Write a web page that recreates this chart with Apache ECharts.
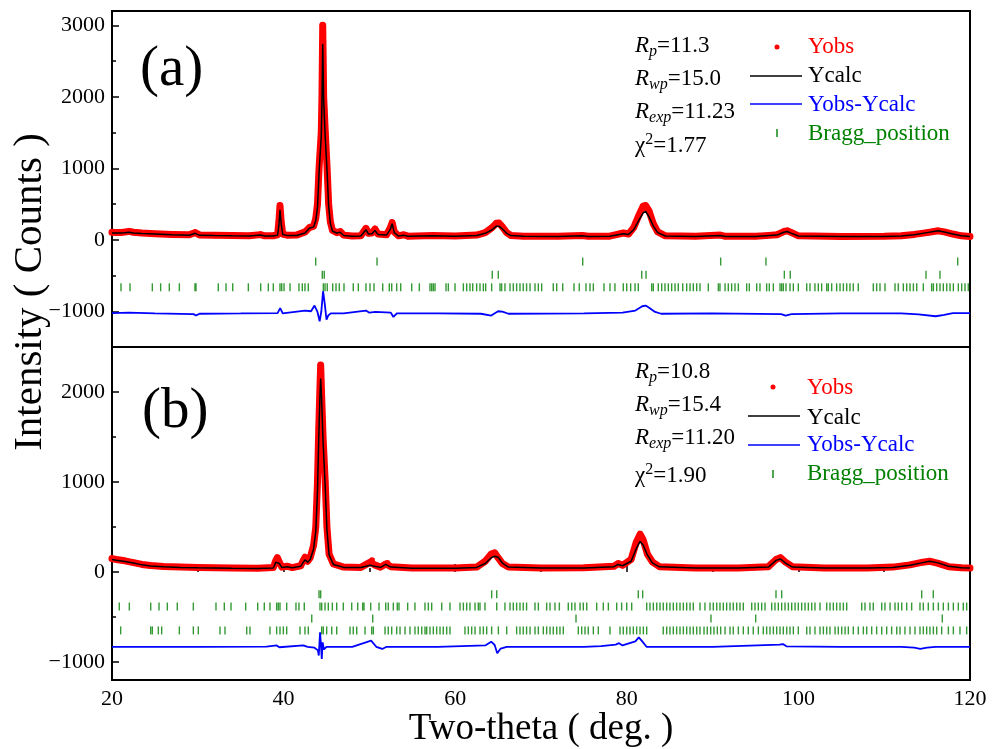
<!DOCTYPE html>
<html>
<head>
<meta charset="utf-8">
<script src="https://cdn.jsdelivr.net/npm/echarts@6/dist/echarts.min.js"></script>
<style>
  html, body { margin: 0; padding: 0; background: #fff; }
  #chart { width: 999px; height: 749px; }
</style>
</head>
<body>
<div id="chart"></div>
<script>
// ---------- panel (a) ----------
var topTheta = [
  20.0, 20.5, 21.0, 21.5, 22.0, 22.5, 23.5, 25.0, 27.0, 29.0,
  29.7, 30.2, 32.0, 34.0, 36.0, 37.3, 37.8, 38.8, 39.3, 39.45,
  39.58, 39.72, 39.9, 40.5, 41.5, 42.5, 43.0, 43.5, 43.75, 43.95,
  44.13, 44.39, 44.47, 44.56, 44.67, 44.86, 45.07, 45.25, 45.45, 45.7,
  46.2, 46.6, 47.0, 48.0, 49.0, 49.6, 49.9, 50.3, 50.65, 51.0,
  52.0, 52.45, 52.65, 52.9, 53.4, 54.0, 54.5, 57.4, 60.0, 62.5,
  63.5, 64.3, 64.8, 65.1, 65.5, 66.0, 66.5, 68.0, 72.0, 74.8,
  75.5, 78.0, 79.6, 80.2, 80.8, 81.4, 81.9, 82.2, 82.6, 83.1,
  83.6, 84.5, 88.0, 90.9, 91.5, 95.0, 96.2, 97.5, 98.3, 98.7,
  99.2, 100.0, 105.0, 110.0, 112.0, 113.5, 115.0, 116.3, 117.0, 118.0,
  119.0, 120.0
];
var topObs = [
  105, 100, 102, 108, 118, 105, 95, 85, 75, 70,
  100, 68, 62, 58, 56, 72, 55, 56, 70, 250,
  480, 250, 80, 62, 65, 110, 170, 190, 300, 500,
  1000, 1500, 2000, 3000, 2000, 1500, 1000, 500, 250, 130,
  100, 115, 65, 52, 55, 160, 90, 95, 150, 80,
  70, 170, 240, 110, 55, 70, 50, 60, 52, 65,
  100, 170, 230, 235, 180, 100, 60, 50, 50, 60,
  48, 50, 95, 80, 170, 340, 470, 480, 400, 220,
  110, 55, 50, 65, 48, 48, 58, 70, 115, 125,
  100, 55, 45, 48, 55, 75, 100, 125, 110, 80,
  55, 45
];
var topCalc = [
  95, 95, 96, 98, 104, 96, 88, 80, 70, 64,
  90, 62, 58, 55, 53, 66, 52, 54, 65, 200,
  420, 220, 75, 58, 60, 95, 160, 180, 270, 450,
  930, 1450, 1900, 2740, 1950, 1420, 950, 470, 230, 120,
  95, 105, 60, 50, 52, 140, 80, 85, 130, 75,
  65, 150, 225, 100, 52, 62, 48, 56, 50, 60,
  90, 140, 190, 190, 150, 90, 58, 48, 47, 55,
  46, 48, 85, 75, 140, 270, 375, 395, 320, 190,
  100, 52, 47, 60, 46, 46, 55, 65, 105, 115,
  90, 52, 44, 46, 52, 70, 100, 125, 110, 80,
  55, 45
];
var topDiffTheta = [
  20, 22, 25, 29.5, 29.8, 30.2, 35, 39.3, 39.6, 39.9,
  42.5, 43.2, 43.6, 43.75, 43.95, 44.2, 44.4, 44.6, 44.8, 45.0,
  45.2, 45.5, 47, 49.6, 50, 50.7, 52.5, 52.8, 53.2, 58,
  63, 64.2, 65.0, 65.5, 66.2, 75, 79.5, 81.0, 81.8, 82.2,
  82.6, 83.3, 84, 90, 98, 98.5, 99.2, 105, 112, 114,
  116, 117, 118, 120
];
var topDiff = [
  -1025, -1020, -1030, -1040, -1060, -1035, -1030, -1025, -955, -1030,
  -990, -1000, -920, -905, -1010, -1140, -1000, -720, -900, -1116,
  -1060, -1030, -1030, -990, -1020, -1010, -1020, -1080, -1030, -1030,
  -1035, -1060, -1000, -1005, -1035, -1030, -1020, -990, -930, -920,
  -950, -1010, -1035, -1030, -1040, -1060, -1040, -1030, -1030, -1045,
  -1070, -1050, -1025, -1025
];
var topBraggFcc = [43.74, 50.89, 74.86, 90.94, 96.22, 118.57];
var topBraggBcc = [44.51, 44.74, 64.32, 65.02, 81.74, 82.24, 98.36, 99.05, 114.87, 116.5];
var topBraggPhase = [
  21.05, 22.10, 24.70, 25.67, 26.68, 27.85, 29.67, 29.79, 32.39, 33.29, 34.07, 35.89,
  37.33, 38.22, 38.80, 39.58, 39.78, 40.05, 40.75, 41.79, 42.18, 42.49, 42.88, 44.63,
  44.83, 45.09, 45.72, 46.11, 46.49, 47.04, 48.12, 48.71, 49.60, 50.07, 50.54, 51.55,
  52.32, 52.60, 53.18, 53.65, 54.93, 55.82, 57.06, 57.26, 57.45, 57.65, 58.93, 59.20,
  59.98, 60.95, 61.34, 61.72, 62.04, 62.50, 62.89, 63.28, 63.55, 64.25, 65.22, 65.41,
  65.80, 66.39, 66.77, 67.16, 67.55, 67.93, 68.32, 68.72, 69.30, 69.69, 70.08, 71.43,
  71.83, 72.53, 73.85, 74.46, 75.24, 75.71, 76.10, 77.34, 78.04, 78.62, 79.59, 79.99,
  80.45, 80.96, 81.34, 82.90, 83.09, 83.67, 84.07, 84.45, 84.84, 85.23, 85.62, 86.00,
  86.52, 86.98, 87.37, 87.75, 88.15, 88.53, 89.50, 90.67, 90.86, 91.45, 91.83, 92.22,
  92.61, 93.00, 93.97, 94.28, 95.14, 95.52, 96.30, 96.61, 97.08, 97.86, 98.05, 98.24,
  98.55, 99.02, 99.41, 99.99, 100.97, 101.35, 101.93, 102.32, 102.71, 103.30, 103.49,
  103.88, 104.46, 104.85, 105.24, 105.63, 106.01, 106.40, 106.98, 108.73, 109.12,
  109.51, 110.09, 111.26, 111.64, 112.23, 112.62, 113.01, 113.40, 113.79, 114.56,
  115.53, 115.73, 116.12, 116.50, 116.89, 117.29, 117.67, 118.06, 118.64, 119.03,
  119.42, 119.80
];

// ---------- panel (b) ----------
var botTheta = [
  20.0, 20.5, 21.5, 22.5, 23.5, 24.5, 26.0, 28.0, 30.0, 34.0,
  37.0, 38.8, 39.1, 39.27, 39.5, 39.8, 40.4, 41.0, 42.0, 42.3,
  42.5, 42.8, 43.1, 43.5, 43.75, 43.95, 44.1, 44.22, 44.32, 44.42,
  44.6, 44.85, 45.05, 45.3, 45.8, 47.0, 49.0, 50.1, 50.3, 50.6,
  51.3, 51.9, 52.1, 52.5, 55.0, 60.0, 62.5, 63.5, 64.2, 64.6,
  65.0, 65.5, 66.2, 70.0, 75.0, 78.5, 79.0, 79.5, 80.5, 81.1,
  81.55, 81.9, 82.4, 83.0, 83.8, 88.0, 93.0, 96.5, 97.4, 97.9,
  98.5, 99.3, 103.0, 108.0, 111.0, 113.0, 114.5, 115.3, 116.2, 117.5,
  119.0, 120.0
];
var botObs = [
  150, 140, 125, 105, 85, 72, 62, 55, 50, 45,
  43, 50, 130, 160, 110, 55, 65, 50, 70, 130,
  165, 120, 160, 300, 500, 1000, 1600, 2000, 2300, 2000,
  1500, 1000, 500, 200, 90, 55, 52, 110, 130, 80,
  55, 90, 100, 60, 45, 45, 55, 120, 200, 215,
  160, 95, 55, 45, 48, 65, 95, 75, 140, 330,
  420, 360, 200, 110, 60, 45, 45, 60, 140, 160,
  110, 60, 45, 45, 55, 80, 110, 120, 100, 60,
  48, 45
];
var botCalc = [
  140, 132, 118, 100, 80, 68, 58, 52, 47, 42,
  40, 45, 110, 128, 95, 50, 60, 48, 65, 110,
  135, 110, 140, 260, 450, 900, 1500, 1900, 2150, 1950,
  1450, 950, 470, 190, 85, 52, 50, 75, 85, 65,
  52, 85, 85, 55, 43, 43, 52, 95, 160, 175,
  165, 100, 55, 44, 46, 60, 85, 70, 120, 260,
  340, 300, 190, 100, 58, 44, 44, 55, 130, 145,
  100, 55, 44, 44, 52, 75, 105, 120, 105, 65,
  48, 45
];
var botDiffTheta = [
  20, 25, 30, 38, 39.2, 39.5, 42.3, 42.8, 43.6, 44.0,
  44.1, 44.25, 44.35, 44.45, 44.55, 44.7, 45.0, 48, 50.2, 50.8,
  51.5, 52.0, 58, 63.5, 64.2, 64.6, 64.9, 65.3, 66, 75,
  77, 78.7, 79.1, 79.5, 81.0, 81.4, 81.8, 82.3, 90, 97.8,
  98.2, 98.6, 105, 112, 113.5, 114.2, 115, 116, 120
];
var botDiff = [
  -830, -830, -832, -828, -815, -835, -815, -830, -840, -870,
  -927, -670, -800, -965, -780, -860, -830, -830, -762, -830,
  -854, -830, -830, -815, -773, -810, -902, -850, -830, -830,
  -822, -805, -790, -815, -770, -725, -770, -830, -830, -805,
  -800, -825, -830, -830, -840, -854, -840, -830, -830
];
var botBraggBcc = [44.13, 44.32, 64.25, 64.84, 81.34, 81.85, 97.39, 98.05, 114.37, 115.72];
var botBraggFcc = [43.28, 50.39, 74.08, 89.81, 95.02, 116.77];
var botBraggPhaseB = [
  20.85, 22.02, 24.51, 25.48, 26.45, 27.61, 29.48, 32.12, 33.09, 33.87, 35.58, 36.98,
  37.75, 38.41, 39.19, 39.38, 39.58, 40.36, 41.44, 41.79, 42.41, 44.24, 44.44, 44.83,
  45.21, 45.68, 46.19, 46.96, 47.94, 48.64, 49.22, 49.37, 50.15, 51.12, 51.90, 52.20,
  52.79, 53.25, 53.45, 54.46, 55.31, 56.48, 56.87, 57.26, 58.43, 59.39, 60.56, 60.95,
  61.34, 61.72, 62.31, 62.69, 62.89, 63.47, 64.84, 65.80, 66.39, 66.77, 67.16, 67.55,
  67.93, 68.32, 69.30, 69.69, 70.66, 71.05, 71.63, 72.14, 73.18, 73.58, 73.96, 74.55,
  74.93, 75.33, 76.49, 77.26, 77.85, 78.82, 79.40, 79.99, 80.57, 82.32, 82.70, 83.09,
  83.49, 83.87, 84.25, 84.65, 85.03, 85.42, 85.81, 86.20, 86.59, 86.98, 87.37, 87.75,
  88.53, 89.11, 89.70, 90.08, 90.48, 90.86, 91.25, 91.64, 92.03, 92.41, 92.81, 93.19,
  93.58, 94.56, 94.94, 95.33, 95.72, 96.11, 96.89, 97.27, 97.66, 98.05, 98.44, 98.83,
  99.22, 99.61, 99.99, 100.38, 100.77, 101.16, 101.55, 101.93, 102.52, 103.30, 103.68,
  104.07, 104.46, 104.85, 105.24, 105.63, 107.38, 107.76, 108.34, 108.73, 109.71,
  110.09, 110.68, 111.26, 111.64, 112.04, 112.62, 113.20, 114.17, 114.56, 115.14,
  115.73, 116.31, 116.89, 117.48, 118.06, 118.64, 119.22, 119.61
];
var botBraggPhaseD = [
  21.01, 24.51, 24.70, 25.40, 25.79, 27.85, 29.48, 30.06, 32.59, 33.17, 35.70, 36.08,
  38.41, 39.19, 39.58, 39.97, 40.36, 41.91, 42.49, 42.88, 44.44, 44.63, 45.02, 45.61,
  46.19, 47.74, 48.12, 48.52, 49.49, 50.27, 50.46, 51.82, 52.20, 52.60, 53.18, 53.57,
  54.15, 54.73, 55.31, 55.70, 56.10, 56.48, 56.68, 57.06, 57.45, 57.84, 58.23, 58.61,
  59.01, 59.39, 61.14, 61.53, 61.92, 62.31, 62.89, 63.28, 63.67, 64.25, 65.03, 66.00,
  67.16, 67.55, 67.93, 68.32, 68.72, 69.30, 69.69, 70.27, 70.66, 71.05, 71.43, 71.83,
  72.21, 72.60, 74.35, 74.74, 75.13, 75.51, 76.10, 76.68, 78.04, 79.21, 79.59, 79.99,
  80.37, 80.76, 81.15, 81.54, 81.93, 82.32, 84.25, 84.65, 85.03, 85.42, 85.81, 86.20,
  86.59, 86.98, 87.37, 87.75, 88.15, 88.53, 89.00, 89.38, 89.78, 90.16, 90.55, 90.94,
  91.45, 92.03, 92.41, 93.00, 93.58, 94.16, 94.74, 95.33, 95.91, 96.30, 96.69, 97.08,
  97.47, 97.86, 98.24, 98.64, 99.02, 99.41, 99.99, 100.97, 101.35, 101.93, 102.52,
  102.91, 103.30, 103.68, 104.27, 104.65, 105.05, 105.44, 105.82, 106.40, 106.98,
  107.57, 107.96, 108.54, 109.12, 109.71, 110.29, 110.87, 111.46, 111.84, 112.42,
  113.01, 113.59, 114.17, 114.56, 114.95, 115.33, 115.73, 116.12, 116.70, 117.48,
  118.06, 118.83, 119.61
];

var topMajor = [-1000, 0, 1000, 2000, 3000];
var topMinor = [-500, 500, 1500, 2500];
var botMajor = [-1000, 0, 1000, 2000];
var botMinor = [-500, 500, 1500];

var FONT = 'Liberation Serif';
var RED = '#ff0000', BLUE = '#0000ff', GREEN = '#008000';

function pairs(xs, ys) {
  return xs.map(function (x, i) { return [x, ys[i]]; });
}
function row(xs, y) {
  return xs.map(function (x) { return [x, y]; });
}
function minus(v) { return String(v).replace('-', '\u2212'); }

function yAxisPair(grid, min, max, major, minor) {
  return [
    {
      type: 'value', gridIndex: grid, position: 'left', min: min, max: max,
      axisLine: { show: false },
      axisTick: { inside: true, length: 7, customValues: major, lineStyle: { color: '#000', width: 1.5 } },
      axisLabel: { customValues: major, formatter: minus, margin: 7, color: '#000', fontFamily: FONT, fontSize: 22 },
      splitLine: { show: false }
    },
    {
      type: 'value', gridIndex: grid, position: 'left', min: min, max: max,
      axisLine: { show: false },
      axisTick: { inside: true, length: 4, customValues: minor, lineStyle: { color: '#000', width: 1.5 } },
      axisLabel: { show: false },
      splitLine: { show: false }
    }
  ];
}

function sub() {
  return {
    r: { fontFamily: FONT, fontSize: 23, fontStyle: 'italic' },
    s: { fontFamily: FONT, fontSize: 16, fontStyle: 'italic', padding: [12, 0, 0, 0] },
    p: { fontFamily: FONT, fontSize: 16, padding: [0, 0, 12, 0] },
    n: { fontFamily: FONT, fontSize: 23 }
  };
}
function label(x, y, text, color, size) {
  return {
    type: 'text', x: x, y: y,
    style: { text: text, fill: color || '#000', font: (size || 23) + 'px "' + FONT + '"', verticalAlign: 'middle' }
  };
}
function richLabel(x, y, text) {
  return {
    type: 'text', x: x, y: y,
    style: { text: text, rich: sub(), fill: '#000', verticalAlign: 'middle' }
  };
}
function panelKey(tx, ty, rows, dotX, lineX1, lineX2, keyY, textX, stats) {
  return [
    richLabel(tx, ty[0], '{r|R}{s|p}{n|=' + stats[0] + '}'),
    richLabel(tx, ty[1], '{r|R}{s|wp}{n|=' + stats[1] + '}'),
    richLabel(tx, ty[2], '{r|R}{s|exp}{n|=' + stats[2] + '}'),
    richLabel(tx, ty[3], '{n|\u03c7}{p|2}{n|=' + stats[3] + '}'),
    { type: 'circle', shape: { cx: dotX, cy: keyY[0], r: 2.5 }, style: { fill: RED } },
    { type: 'line', shape: { x1: lineX1, y1: keyY[1], x2: lineX2, y2: keyY[1] }, style: { stroke: '#000', lineWidth: 1.5 } },
    { type: 'line', shape: { x1: lineX1, y1: keyY[2], x2: lineX2, y2: keyY[2] }, style: { stroke: BLUE, lineWidth: 1.5 } },
    { type: 'rect', shape: { x: dotX - 0.7, y: keyY[3] - 4, width: 1.4, height: 8 }, style: { fill: GREEN } },
    label(textX, rows[0], 'Yobs', RED),
    label(textX, rows[1], 'Ycalc', '#000'),
    label(textX, rows[2], 'Yobs-Ycalc', BLUE),
    label(textX, rows[3], 'Bragg_position', GREEN)
  ];
}

var braggStyle = { type: 'scatter', symbol: 'rect', symbolSize: [1.4, 8], itemStyle: { color: GREEN }, z: 1 };

var option = {
  animation: false,
  backgroundColor: '#fff',
  grid: [
    { left: 112, right: 29, top: 11, height: 336, show: true, borderColor: '#000', borderWidth: 2, backgroundColor: 'transparent' },
    { left: 112, right: 29, top: 347, height: 336, show: true, borderColor: '#000', borderWidth: 2, backgroundColor: 'transparent' }
  ],
  xAxis: [
    {
      type: 'value', gridIndex: 0, min: 20, max: 120, interval: 20,
      axisLine: { show: false }, axisTick: { show: false }, axisLabel: { show: false }, splitLine: { show: false }
    },
    {
      type: 'value', gridIndex: 1, min: 20, max: 120, interval: 20,
      axisLine: { show: false },
      axisTick: { inside: true, length: 8, lineStyle: { color: '#000', width: 1.5 } },
      minorTick: { show: true, splitNumber: 2, length: 4, lineStyle: { color: '#000', width: 1.5 } },
      axisLabel: { color: '#000', fontFamily: FONT, fontSize: 22, margin: 8 },
      splitLine: { show: false },
      name: 'Two-theta ( deg. )', nameLocation: 'middle', nameGap: 28,
      nameTextStyle: { color: '#000', fontFamily: FONT, fontSize: 37 }
    }
  ],
  yAxis: yAxisPair(0, -1500, 3200, topMajor, topMinor).concat(yAxisPair(1, -1200, 2500, botMajor, botMinor)),
  series: [
    Object.assign({}, braggStyle, { name: 'Bragg_position', xAxisIndex: 0, yAxisIndex: 0, data: row(topBraggFcc, -305) }),
    Object.assign({}, braggStyle, { name: 'Bragg_position', xAxisIndex: 0, yAxisIndex: 0, data: row(topBraggBcc, -488) }),
    Object.assign({}, braggStyle, { name: 'Bragg_position', xAxisIndex: 0, yAxisIndex: 0, data: row(topBraggPhase, -665) }),
    {
      name: 'Yobs', type: 'line', xAxisIndex: 0, yAxisIndex: 0, data: pairs(topTheta, topObs),
      symbol: 'circle', symbolSize: 6, showSymbol: true, itemStyle: { color: RED },
      lineStyle: { color: RED, width: 7, cap: 'round', join: 'round' }, z: 2
    },
    {
      name: 'Ycalc', type: 'line', xAxisIndex: 0, yAxisIndex: 0, data: pairs(topTheta, topCalc),
      symbol: 'none', lineStyle: { color: '#000', width: 1.5 }, z: 3
    },
    {
      name: 'Yobs-Ycalc', type: 'line', xAxisIndex: 0, yAxisIndex: 0, data: pairs(topDiffTheta, topDiff),
      symbol: 'none', lineStyle: { color: BLUE, width: 1.8 }, z: 3
    },

    Object.assign({}, braggStyle, { name: 'Bragg_position', xAxisIndex: 1, yAxisIndex: 2, data: row(botBraggBcc, -247) }),
    Object.assign({}, braggStyle, { name: 'Bragg_position', xAxisIndex: 1, yAxisIndex: 2, data: row(botBraggPhaseB, -383) }),
    Object.assign({}, braggStyle, { name: 'Bragg_position', xAxisIndex: 1, yAxisIndex: 2, data: row(botBraggFcc, -515) }),
    Object.assign({}, braggStyle, { name: 'Bragg_position', xAxisIndex: 1, yAxisIndex: 2, data: row(botBraggPhaseD, -648) }),
    {
      name: 'Yobs', type: 'line', xAxisIndex: 1, yAxisIndex: 2, data: pairs(botTheta, botObs),
      symbol: 'circle', symbolSize: 6, showSymbol: true, itemStyle: { color: RED },
      lineStyle: { color: RED, width: 7, cap: 'round', join: 'round' }, z: 2
    },
    {
      name: 'Ycalc', type: 'line', xAxisIndex: 1, yAxisIndex: 2, data: pairs(botTheta, botCalc),
      symbol: 'none', lineStyle: { color: '#000', width: 1.5 }, z: 3
    },
    {
      name: 'Yobs-Ycalc', type: 'line', xAxisIndex: 1, yAxisIndex: 2, data: pairs(botDiffTheta, botDiff),
      symbol: 'none', lineStyle: { color: BLUE, width: 1.8 }, z: 3
    }
  ],
  graphic: [
    {
      type: 'text', x: 30, y: 292, rotation: Math.PI / 2,
      style: { text: 'Intensity ( Counts )', fill: '#000', font: '41px "' + FONT + '"', align: 'center', verticalAlign: 'middle' }
    },
    label(140, 70, '(a)', '#000', 57),
    label(142, 412, '(b)', '#000', 57)
  ]
    .concat(panelKey(635, [46, 79, 112, 146], [47, 76, 105, 134], 777, 750, 802, [47, 76, 104, 133], 808,
      ['11.3', '15.0', '11.23', '1.77']))
    .concat(panelKey(635, [372, 405, 438, 476], [388, 418, 445, 474], 773, 748, 800, [387, 416, 445, 474], 807,
      ['10.8', '15.4', '11.20', '1.90']))
};

var chart = echarts.init(document.getElementById('chart'));
chart.setOption(option);
</script>
</body>
</html>
